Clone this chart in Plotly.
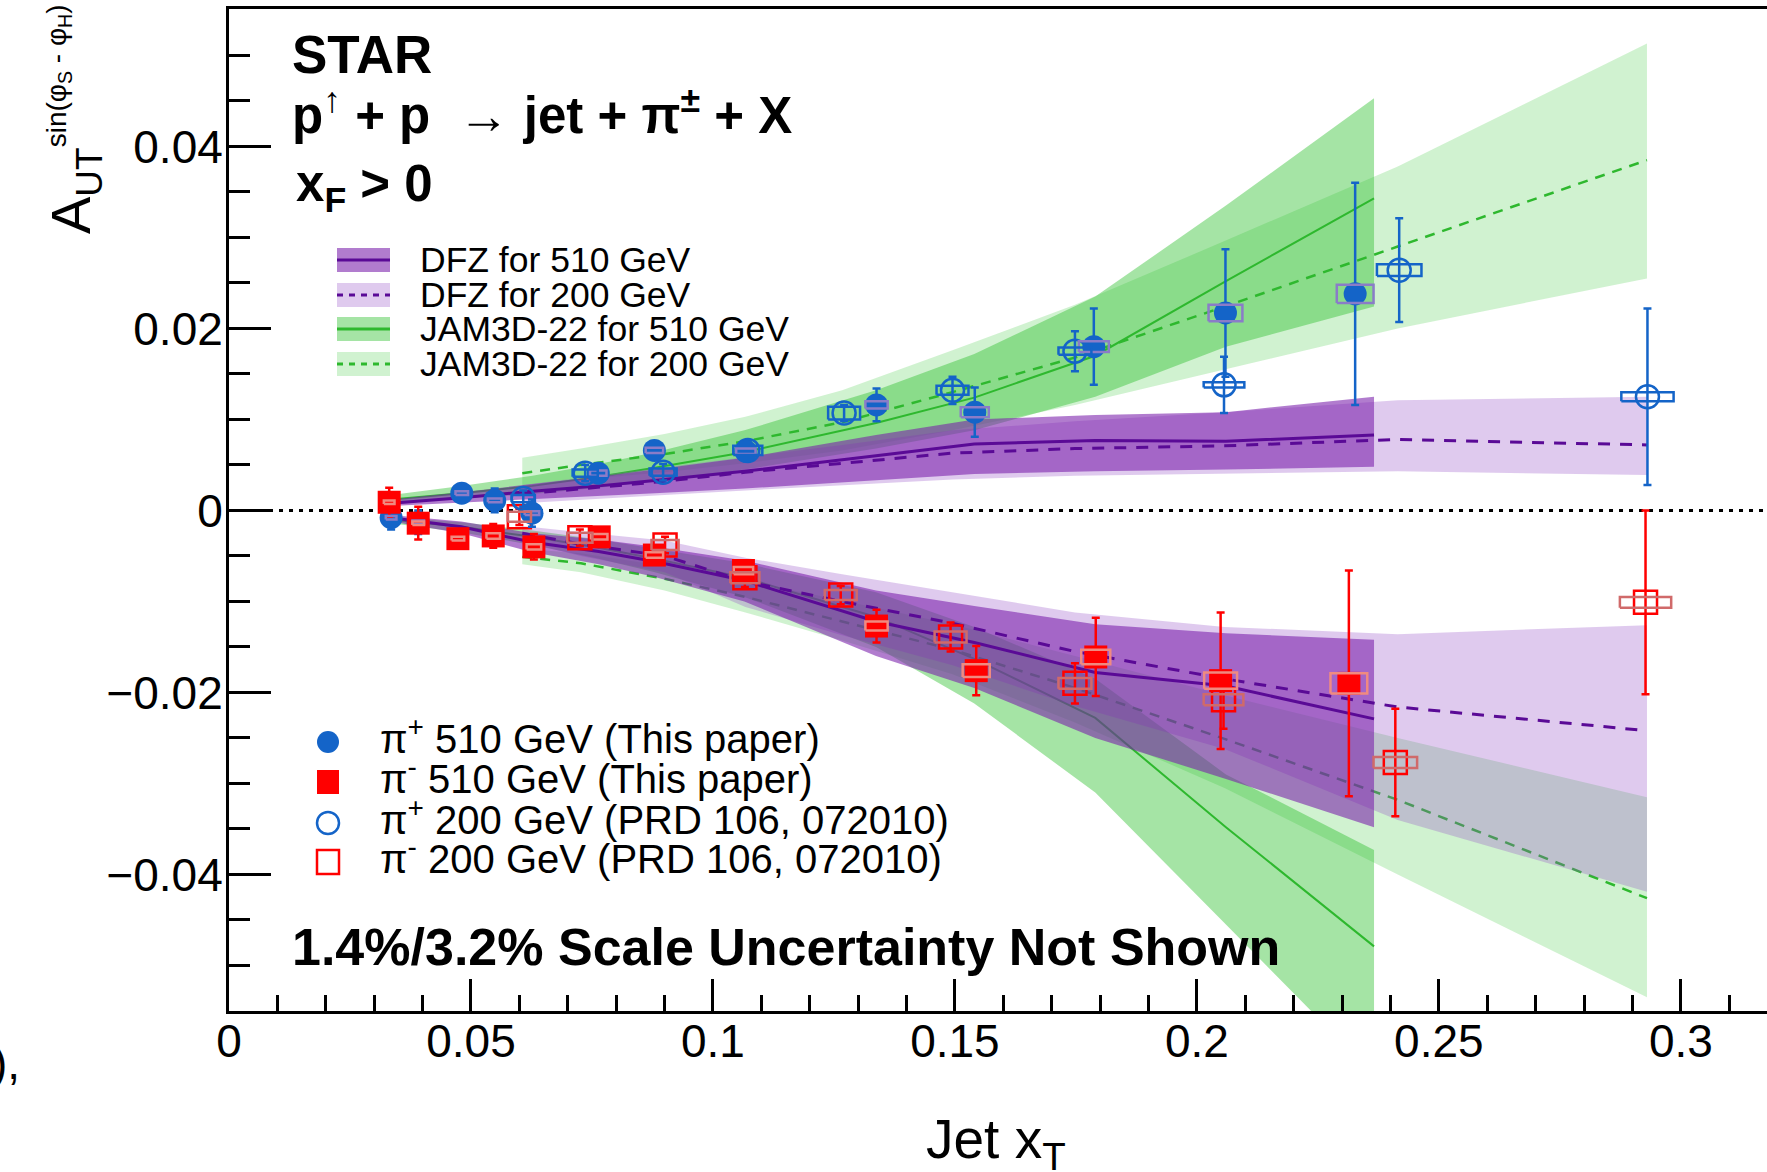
import plotly.graph_objects as go

# ---------------- data ----------------
# pi+ 510 GeV (this paper)
pip510_x = [0.0335, 0.0391, 0.0481, 0.0549, 0.0626, 0.0763, 0.0879, 0.1068, 0.1338, 0.1541, 0.1787, 0.2059, 0.2327]
pip510_y = [-0.0008, -0.0013, 0.0019, 0.0011, -0.0003, 0.0041, 0.0066, 0.0065, 0.0116, 0.0108, 0.0180, 0.0217, 0.0238]
pip510_stat = [0.0013, 0.0013, 0.0008, 0.0013, 0.0015, 0.0008, 0.0008, 0.0009, 0.0018, 0.0027, 0.0042, 0.0070, 0.0122]
pip510_sys = [0.0002, 0.0002, 0.0002, 0.0002, 0.0002, 0.0003, 0.0003, 0.0003, 0.0004, 0.00055, 0.0006, 0.0009, 0.0010]
pip510_dx = [0.0011, 0.0012, 0.0013, 0.0014, 0.0015, 0.0017, 0.0018, 0.0020, 0.0023, 0.0029, 0.0031, 0.0035, 0.0038]

# pi- 510 GeV (this paper)
pim510_x = [0.0331, 0.0391, 0.0473, 0.0546, 0.0630, 0.0765, 0.0879, 0.1063, 0.1338, 0.1544, 0.1791, 0.2049, 0.2314]
pim510_y = [0.0009, -0.0014, -0.0031, -0.0028, -0.0040, -0.0029, -0.0049, -0.0066, -0.0127, -0.0176, -0.0161, -0.0187, -0.0190]
pim510_stat = [0.0016, 0.0018, 0.0008, 0.0013, 0.0014, 0.0008, 0.0008, 0.0010, 0.0018, 0.0027, 0.0043, 0.0075, 0.0124]
pim510_sys = [0.0002, 0.0002, 0.0002, 0.0003, 0.0003, 0.0003, 0.0003, 0.0004, 0.0005, 0.0007, 0.0008, 0.0009, 0.0011]
pim510_dx = [0.0011, 0.0012, 0.0013, 0.0014, 0.0015, 0.0017, 0.0018, 0.0020, 0.0023, 0.0028, 0.0030, 0.0034, 0.0038]

# pi+ 200 GeV (PRD 106, 072010)
pip200_x = [0.0608, 0.0736, 0.0897, 0.1072, 0.1271, 0.1495, 0.1748, 0.2056, 0.2418, 0.2931]
pip200_y = [0.0013, 0.0041, 0.0042, 0.0066, 0.0107, 0.0132, 0.0175, 0.0138, 0.0264, 0.0125]
pip200_stat = [0.0009, 0.0009, 0.0009, 0.0010, 0.0009, 0.0015, 0.0022, 0.0031, 0.0057, 0.0097]
pip200_sys = [0.0004, 0.0004, 0.0004, 0.0005, 0.0007, 0.0005, 0.0004, 0.0003, 0.00065, 0.0005]
pip200_dx = [0.0024, 0.0026, 0.0028, 0.0030, 0.0033, 0.0033, 0.0034, 0.0042, 0.0046, 0.0054]

# pi- 200 GeV (PRD 106, 072010)
pim200_x = [0.0600, 0.0725, 0.0901, 0.1066, 0.1264, 0.1491, 0.1748, 0.2055, 0.2410, 0.2927]
pim200_y = [-0.0007, -0.0030, -0.0038, -0.0074, -0.0093, -0.0139, -0.0190, -0.0208, -0.0277, -0.0101]
pim200_stat = [0.0009, 0.0009, 0.0009, 0.0010, 0.0010, 0.0016, 0.0022, 0.0032, 0.0059, 0.0101]
pim200_sys = [0.00055, 0.00055, 0.00055, 0.0006, 0.00055, 0.0006, 0.0006, 0.0006, 0.0006, 0.0006]
pim200_dx = [0.0024, 0.0026, 0.0028, 0.0030, 0.0033, 0.0033, 0.0034, 0.0041, 0.0045, 0.0053]

# theory grids
th510_x = [0.0335, 0.048, 0.0627, 0.0764, 0.088, 0.1065, 0.1337, 0.154, 0.179, 0.206, 0.2366]
th200_x = [0.0606, 0.0727, 0.090, 0.1067, 0.1267, 0.1495, 0.1748, 0.2057, 0.2415, 0.293]

jam510_pos_c = [0.0012, 0.0019, 0.0027, 0.0037, 0.0047, 0.0064, 0.0096, 0.0124, 0.0170, 0.0252, 0.0343]
jam510_pos_lo = [0.0008, 0.0013, 0.0018, 0.0025, 0.0032, 0.0045, 0.0068, 0.0088, 0.0125, 0.0180, 0.0224]
jam510_pos_hi = [0.0017, 0.0027, 0.0038, 0.0051, 0.0064, 0.0088, 0.0132, 0.0172, 0.0235, 0.0335, 0.0453]
jam510_neg_c = [-0.0010, -0.0018, -0.0029, -0.0041, -0.0053, -0.0074, -0.0117, -0.0163, -0.0228, -0.0348, -0.0479]
jam510_neg_lo = [-0.0014, -0.0024, -0.0038, -0.0053, -0.0068, -0.0095, -0.0150, -0.0212, -0.0310, -0.0455, -0.0620]
jam510_neg_hi = [-0.0007, -0.0013, -0.0022, -0.0032, -0.0042, -0.0058, -0.0090, -0.0128, -0.0185, -0.0290, -0.0373]

jam200_pos_c = [0.0041, 0.0050, 0.0062, 0.0076, 0.0097, 0.0130, 0.0168, 0.0224, 0.0290, 0.0385]
jam200_pos_lo = [0.0028, 0.0034, 0.0042, 0.0052, 0.0066, 0.0088, 0.0116, 0.0155, 0.0200, 0.0255]
jam200_pos_hi = [0.0058, 0.0068, 0.0084, 0.0103, 0.0132, 0.0176, 0.0226, 0.0296, 0.0378, 0.0513]
jam200_neg_c = [-0.0051, -0.0058, -0.0075, -0.0095, -0.0122, -0.0153, -0.0195, -0.0251, -0.0318, -0.0426]
jam200_neg_lo = [-0.0059, -0.0068, -0.0088, -0.0112, -0.0143, -0.0180, -0.0233, -0.0305, -0.0400, -0.0535]
jam200_neg_hi = [-0.0042, -0.0047, -0.0061, -0.0077, -0.0099, -0.0125, -0.0160, -0.0203, -0.0250, -0.0315]

dfz510_pos_c = [0.0008, 0.0014, 0.0021, 0.0027, 0.0033, 0.0043, 0.0060, 0.0073, 0.0077, 0.0076, 0.0083]
dfz510_pos_lo = [0.0005, 0.0009, 0.0013, 0.0016, 0.0019, 0.0024, 0.0033, 0.0040, 0.0043, 0.0045, 0.0048]
dfz510_pos_hi = [0.0012, 0.0020, 0.0029, 0.0037, 0.0045, 0.0058, 0.0083, 0.0100, 0.0105, 0.0108, 0.0125]
dfz510_neg_c = [-0.0008, -0.0018, -0.0035, -0.0045, -0.0056, -0.0077, -0.0122, -0.0145, -0.0178, -0.0193, -0.0229]
dfz510_neg_lo = [-0.0012, -0.0025, -0.0046, -0.0059, -0.0073, -0.0100, -0.0160, -0.0195, -0.0250, -0.0295, -0.0348]
dfz510_neg_hi = [-0.0005, -0.0012, -0.0025, -0.0032, -0.0040, -0.0055, -0.0088, -0.0105, -0.0125, -0.0135, -0.0142]

dfz200_pos_c = [0.0018, 0.0024, 0.0032, 0.0042, 0.0052, 0.0063, 0.0068, 0.0071, 0.0078, 0.0072]
dfz200_pos_lo = [0.0008, 0.0012, 0.0017, 0.0022, 0.0028, 0.0034, 0.0038, 0.0040, 0.0043, 0.0039]
dfz200_pos_hi = [0.0028, 0.0036, 0.0047, 0.0058, 0.0072, 0.0088, 0.0098, 0.0108, 0.0121, 0.0125]
dfz200_neg_c = [-0.0025, -0.0037, -0.0050, -0.0078, -0.0100, -0.0124, -0.0155, -0.0185, -0.0216, -0.0242]
dfz200_neg_lo = [-0.0034, -0.0050, -0.0068, -0.0106, -0.0137, -0.0170, -0.0215, -0.0262, -0.0340, -0.0419]
dfz200_neg_hi = [-0.0017, -0.0024, -0.0033, -0.0052, -0.0070, -0.0090, -0.0112, -0.0128, -0.0136, -0.0126]

theory_labels = ["DFZ for 510 GeV", "DFZ for 200 GeV", "JAM3D-22 for 510 GeV", "JAM3D-22 for 200 GeV"]
data_labels = ["π<sup>+</sup> 510 GeV (This paper)", "π<sup>-</sup> 510 GeV (This paper)",
               "π<sup>+</sup> 200 GeV (PRD 106, 072010)", "π<sup>-</sup> 200 GeV (PRD 106, 072010)"]

# ---------------- style ----------------
FONT = "Liberation Sans, Arial, Helvetica, sans-serif"
BLUE = "#1464c8"
RED = "#ff0000"
GREEN_LINE = "#2eb82e"
PURPLE_LINE = "#5a0a96"
JAM510_FILL = "rgba(40,190,40,0.42)"
JAM200_FILL = "rgba(60,200,60,0.24)"
DFZ510_FILL = "rgba(120,30,170,0.58)"
DFZ200_FILL = "rgba(150,80,200,0.30)"

W, H = 1767, 1172
PL, PR, PT, PB = 229, 1767, 9, 1011


def xp(X):
    return (X - PL) / (PR - PL)


def yp(Y):
    return (PB - Y) / (PB - PT)


fig = go.Figure()


def band(x, lo, hi, color):
    fig.add_trace(go.Scatter(x=list(x) + list(x)[::-1], y=list(hi) + list(lo)[::-1],
                             mode="lines", fill="toself", fillcolor=color,
                             line=dict(width=0), hoverinfo="skip", showlegend=False))


def curve(x, y, color, width, dash):
    fig.add_trace(go.Scatter(x=x, y=y, mode="lines", line=dict(color=color, width=width, dash=dash),
                             hoverinfo="skip", showlegend=False))


# green bands and lines (underneath)
band(th200_x, jam200_pos_lo, jam200_pos_hi, JAM200_FILL)
band(th200_x, jam200_neg_lo, jam200_neg_hi, JAM200_FILL)
band(th510_x, jam510_pos_lo, jam510_pos_hi, JAM510_FILL)
band(th510_x, jam510_neg_lo, jam510_neg_hi, JAM510_FILL)
curve(th510_x, jam510_pos_c, GREEN_LINE, 2, "solid")
curve(th510_x, jam510_neg_c, GREEN_LINE, 2, "solid")
curve(th200_x, jam200_pos_c, GREEN_LINE, 2.5, "10px,8px")
curve(th200_x, jam200_neg_c, GREEN_LINE, 2.5, "10px,8px")
# purple bands and lines
band(th200_x, dfz200_pos_lo, dfz200_pos_hi, DFZ200_FILL)
band(th200_x, dfz200_neg_lo, dfz200_neg_hi, DFZ200_FILL)
band(th510_x, dfz510_pos_lo, dfz510_pos_hi, DFZ510_FILL)
band(th510_x, dfz510_neg_lo, dfz510_neg_hi, DFZ510_FILL)
curve(th510_x, dfz510_pos_c, PURPLE_LINE, 3, "solid")
curve(th510_x, dfz510_neg_c, PURPLE_LINE, 3, "solid")
curve(th200_x, dfz200_pos_c, PURPLE_LINE, 3, "12px,10px")
curve(th200_x, dfz200_neg_c, PURPLE_LINE, 3, "12px,10px")


def points(x, y, stat, color, symbol, filled):
    fig.add_trace(go.Scatter(
        x=x, y=y, mode="markers",
        marker=dict(symbol=symbol, size=23, color=color,
                    line=dict(color=color, width=0 if filled else 2.5)),
        error_y=dict(type="data", array=stat, visible=True, color=color, thickness=2.5, width=4),
        hoverinfo="skip", showlegend=False))


def boxes(x, y, dx, sy, color):
    bx, by = [], []
    for xi, yi, dxi, syi in zip(x, y, dx, sy):
        bx += [xi - dxi, xi + dxi, xi + dxi, xi - dxi, xi - dxi, None]
        by += [yi - syi, yi - syi, yi + syi, yi + syi, yi - syi, None]
    fig.add_trace(go.Scatter(x=bx, y=by, mode="lines", line=dict(color=color, width=2.5),
                             hoverinfo="skip", showlegend=False))


points(pim200_x, pim200_y, pim200_stat, RED, "square-open", False)
points(pip200_x, pip200_y, pip200_stat, BLUE, "circle-open", False)
points(pip510_x, pip510_y, pip510_stat, BLUE, "circle", True)
points(pim510_x, pim510_y, pim510_stat, RED, "square", True)
boxes(pip510_x, pip510_y, pip510_dx, pip510_sys, "#8a7cc8")
boxes(pim510_x, pim510_y, pim510_dx, pim510_sys, "#f08a80")
boxes(pip200_x, pip200_y, pip200_dx, pip200_sys, BLUE)
boxes(pim200_x, pim200_y, pim200_dx, pim200_sys, "#d06a6a")

shapes = []
# zero dotted line
shapes.append(dict(type="line", xref="x", yref="y", x0=0, x1=0.3178, y0=0, y1=0,
                   line=dict(color="black", width=3, dash="4px,6px"), layer="below"))

annotations = []


def text(s, X, Y, size, bold=False, anchor="left", angle=0, yanchor="middle"):
    annotations.append(dict(text=f"<b>{s}</b>" if bold else s, xref="paper", yref="paper",
                            x=xp(X), y=yp(Y), xanchor=anchor, yanchor=yanchor, showarrow=False,
                            textangle=angle, font=dict(family=FONT, size=size, color="black")))


# headers
text("STAR", 290, 55, 53, bold=True)
text("p<sup>↑</sup> + p  → jet + π<sup>±</sup> + X", 290, 112, 51, bold=True)
text("x<sub>F</sub> > 0", 294, 187, 51, bold=True)
text("1.4%/3.2% Scale Uncertainty Not Shown", 290, 947, 52, bold=True)

# theory legend
rows_t = [260, 295, 329, 364]
t_fill = [DFZ510_FILL, DFZ200_FILL, JAM510_FILL, JAM200_FILL]
t_line = [PURPLE_LINE, PURPLE_LINE, GREEN_LINE, GREEN_LINE]
t_dash = ["solid", "6px,6px", "solid", "6px,6px"]
for r, lab, fc, lc, ds in zip(rows_t, theory_labels, t_fill, t_line, t_dash):
    shapes.append(dict(type="rect", xref="paper", yref="paper", x0=xp(337), x1=xp(390),
                       y0=yp(r + 12), y1=yp(r - 12), fillcolor=fc, line=dict(width=0), layer="above"))
    shapes.append(dict(type="line", xref="paper", yref="paper", x0=xp(337), x1=xp(390),
                       y0=yp(r), y1=yp(r), line=dict(color=lc, width=3, dash=ds), layer="above"))
    text(lab, 418, r, 35.5)

# data legend
rows_d = [742, 782, 823, 862]
for i, (r, lab) in enumerate(zip(rows_d, data_labels)):
    col = BLUE if i in (0, 2) else RED
    filled = i < 2
    if i in (0, 2):
        shapes.append(dict(type="circle", xref="paper", yref="paper", xsizemode="pixel", ysizemode="pixel",
                           xanchor=xp(328), yanchor=yp(r), x0=-11, x1=11, y0=-11, y1=11,
                           fillcolor=col if filled else "white", line=dict(color=col, width=0 if filled else 2.5),
                           layer="above"))
    else:
        shapes.append(dict(type="rect", xref="paper", yref="paper", xsizemode="pixel", ysizemode="pixel",
                           xanchor=xp(328), yanchor=yp(r), x0=-11, x1=11, y0=-12, y1=12,
                           fillcolor=col if filled else "white", line=dict(color=col, width=0 if filled else 2.5),
                           layer="above"))
    text(lab, 378, r - 6, 40)

# axis titles
text("A<sub><span style='font-size:37px'>UT</span></sub>"
     "<sup><span style='font-size:28px'>sin(φ<sub>S</sub> - φ<sub>H</sub>)</span></sup>",
     75, 2, 56, angle=-90, anchor="center", yanchor="top")
text("Jet x<sub>T</sub>", 924, 1143, 55)
text("),", 22, 1063, 46, anchor="right")

fig.update_layout(
    width=W, height=H,
    margin=dict(l=PL, r=W - PR, t=PT, b=H - PB, pad=0),
    paper_bgcolor="white", plot_bgcolor="white",
    showlegend=False,
    shapes=shapes, annotations=annotations,
    font=dict(family=FONT, color="black"),
    xaxis=dict(range=[0, 0.3178], showline=True, linewidth=3, linecolor="black", mirror=True,
               ticks="inside", ticklen=32, tickwidth=2.5, tickcolor="black", tick0=0, dtick=0.05,
               minor=dict(ticks="inside", ticklen=16, tickwidth=2.5, tickcolor="black", dtick=0.01),
               showgrid=False, zeroline=False, tickfont=dict(size=46, family=FONT),
               ticklabelstandoff=-12),
    yaxis=dict(range=[-0.055, 0.0551], showline=True, linewidth=3, linecolor="black", mirror=False,
               ticks="inside", ticklen=42, tickwidth=2.5, tickcolor="black", tick0=0, dtick=0.02,
               minor=dict(ticks="inside", ticklen=21, tickwidth=2.5, tickcolor="black", dtick=0.005),
               showgrid=False, zeroline=False, tickfont=dict(size=46, family=FONT),
               ticklabelstandoff=-6),
)

fig.write_html("out.html")
